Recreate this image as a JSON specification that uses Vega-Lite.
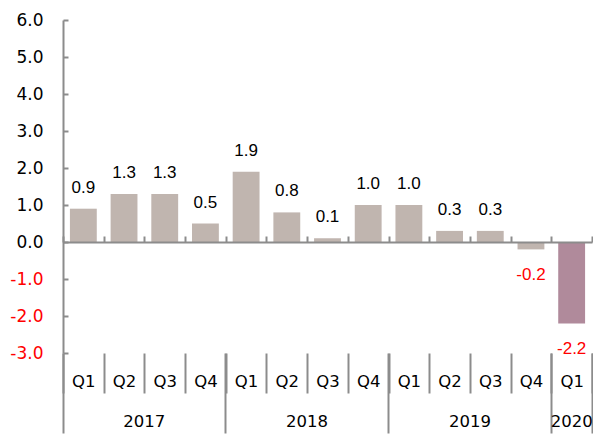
{
  "$schema": "https://vega.github.io/schema/vega-lite/v6.json",
  "width": 529,
  "height": 333,
  "autosize": {"type": "none"},
  "padding": {"left": 63, "top": 20, "right": 1, "bottom": 89},
  "background": "white",
  "config": {"view": {"stroke": null}},
  "data": {
    "values": [
      {"q": "2017 Q1", "v": 0.9, "t": "0.9"},
      {"q": "2017 Q2", "v": 1.3, "t": "1.3"},
      {"q": "2017 Q3", "v": 1.3, "t": "1.3"},
      {"q": "2017 Q4", "v": 0.5, "t": "0.5"},
      {"q": "2018 Q1", "v": 1.9, "t": "1.9"},
      {"q": "2018 Q2", "v": 0.8, "t": "0.8"},
      {"q": "2018 Q3", "v": 0.1, "t": "0.1"},
      {"q": "2018 Q4", "v": 1.0, "t": "1.0"},
      {"q": "2019 Q1", "v": 1.0, "t": "1.0"},
      {"q": "2019 Q2", "v": 0.3, "t": "0.3"},
      {"q": "2019 Q3", "v": 0.3, "t": "0.3"},
      {"q": "2019 Q4", "v": -0.2, "t": "-0.2"},
      {"q": "2020 Q1", "v": -2.2, "t": "-2.2"}
    ]
  },
  "resolve": {"axis": {"x": "independent", "y": "independent"}},
  "layer": [
    {
      "transform": [{"filter": "datum.q !== '2020 Q1'"}],
      "mark": {"type": "bar", "color": "#c0b5af", "width": {"band": 0.66}},
      "encoding": {
        "x": {
          "field": "q", "type": "ordinal", "sort": null,
          "scale": {"domain": ["2017 Q1","2017 Q2","2017 Q3","2017 Q4","2018 Q1","2018 Q2","2018 Q3","2018 Q4","2019 Q1","2019 Q2","2019 Q3","2019 Q4","2020 Q1"], "paddingInner": 0, "paddingOuter": 0},
          "axis": {
            "orient": "bottom", "title": null, "tickBand": "extent", "tickSize": 40,
            "tickColor": "#8c8c8c", "tickWidth": 2, "domain": false,
            "labelExpr": "isValid(datum.value) ? substring(datum.value, 5) : ''", "labelAngle": 0, "labelPadding": -20,
            "labelFont": "DejaVu Sans", "labelFontSize": 16.5, "labelColor": "#000000",
            "labelOverlap": false, "labelBound": false, "zindex": 1
          }
        },
        "y": {
          "field": "v", "type": "quantitative",
          "scale": {"domain": [-3, 6], "nice": false, "zero": false},
          "axis": {
            "orient": "left", "title": null, "values": [-3, -2, -1, 0, 1, 2, 3, 4, 5, 6],
            "labelExpr": "replace(format(datum.value, '.1f'), '\u2212', '-')",
            "grid": false, "domainColor": "#8c8c8c", "domainWidth": 2,
            "tickColor": "#8c8c8c", "tickWidth": 2, "tickSize": -5, "labelPadding": 25,
            "labelFont": "DejaVu Sans", "labelFontSize": 17,
            "labelColor": {"condition": {"test": "datum.value < 0", "value": "#ff0000"}, "value": "#000000"},
            "labelOverlap": false, "labelBound": false, "zindex": 1
          }
        }
      }
    },
    {
      "transform": [{"filter": "datum.q === '2020 Q1'"}],
      "mark": {"type": "bar", "color": "#b08a9b", "width": {"band": 0.66}},
      "encoding": {
        "x": {
          "field": "q", "type": "ordinal", "sort": null,
          "scale": {"domain": ["2017 Q1","2017 Q2","2017 Q3","2017 Q4","2018 Q1","2018 Q2","2018 Q3","2018 Q4","2019 Q1","2019 Q2","2019 Q3","2019 Q4","2020 Q1"], "paddingInner": 0, "paddingOuter": 0},
          "axis": {
            "orient": "bottom", "title": null, "offset": -111, "tickBand": "extent", "tickSize": -6,
            "tickColor": "#8c8c8c", "tickWidth": 2, "domain": true, "domainColor": "#8c8c8c", "domainWidth": 2,
            "labels": false, "zindex": 1
          }
        },
        "y": {"field": "v", "type": "quantitative", "axis": null}
      }
    },
    {
      "transform": [{"filter": "datum.v >= 0"}],
      "mark": {"type": "text", "font": "Liberation Sans", "fontSize": 17, "baseline": "alphabetic", "dy": -16, "color": "#000000"},
      "encoding": {
        "x": {
          "field": "q", "type": "ordinal", "sort": null,
          "scale": {"domain": ["2017 Q1","2017 Q2","2017 Q3","2017 Q4","2018 Q1","2018 Q2","2018 Q3","2018 Q4","2019 Q1","2019 Q2","2019 Q3","2019 Q4","2020 Q1"], "paddingInner": 0, "paddingOuter": 0},
          "axis": {
            "orient": "bottom", "title": null, "values": ["2017 Q1", "2018 Q1", "2019 Q1"],
            "bandPosition": 0, "tickSize": 80, "tickColor": "#8c8c8c", "tickWidth": 2, "domain": false,
            "labelExpr": "isValid(datum.value) ? substring(datum.value, 0, 4) : ''", "labelOffset": 61, "labelAngle": 0, "labelPadding": -20,
            "labelFont": "DejaVu Sans", "labelFontSize": 16.5, "labelColor": "#000000",
            "labelOverlap": false, "labelBound": false, "zindex": 1
          }
        },
        "y": {"field": "v", "type": "quantitative", "axis": null},
        "text": {"field": "t", "type": "nominal"}
      }
    },
    {
      "transform": [{"filter": "datum.v < 0"}],
      "mark": {"type": "text", "font": "Liberation Sans", "fontSize": 17, "baseline": "alphabetic", "dy": 31, "color": "#ff0000"},
      "encoding": {
        "x": {
          "field": "q", "type": "ordinal", "sort": null,
          "scale": {"domain": ["2017 Q1","2017 Q2","2017 Q3","2017 Q4","2018 Q1","2018 Q2","2018 Q3","2018 Q4","2019 Q1","2019 Q2","2019 Q3","2019 Q4","2020 Q1"], "paddingInner": 0, "paddingOuter": 0},
          "axis": {
            "orient": "bottom", "title": null, "values": ["2020 Q1"],
            "bandPosition": 1, "tickExtra": true, "tickSize": 80, "tickColor": "#8c8c8c", "tickWidth": 2, "domain": false,
            "labelExpr": "isValid(datum.value) ? substring(datum.value, 0, 4) : ''", "labelAngle": 0, "labelPadding": -20,
            "labelFont": "DejaVu Sans", "labelFontSize": 16.5, "labelColor": "#000000",
            "labelOverlap": false, "labelBound": false, "zindex": 1
          }
        },
        "y": {"field": "v", "type": "quantitative", "axis": null},
        "text": {"field": "t", "type": "nominal"}
      }
    }
  ]
}
